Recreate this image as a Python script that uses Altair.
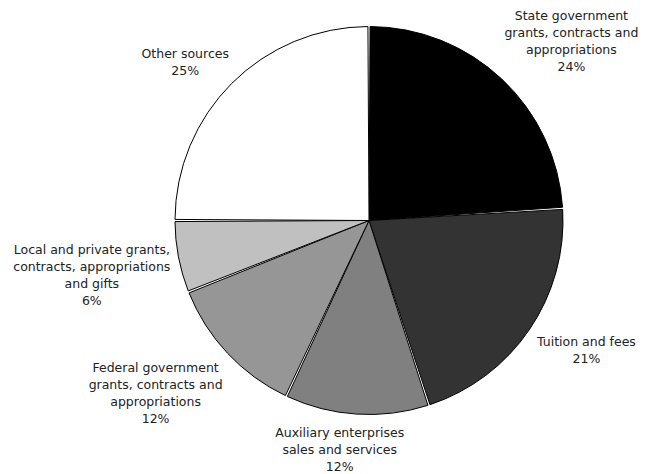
import altair as alt
import pandas as pd
import numpy as np

# ---- data ----
categories = [
    "State government\ngrants, contracts and\nappropriations",
    "Tuition and fees",
    "Auxiliary enterprises\nsales and services",
    "Federal government\ngrants, contracts and\nappropriations",
    "Local and private grants,\ncontracts, appropriations\nand gifts",
    "Other sources",
]
shares = [24, 21, 12, 12, 6, 25]
colors = ["#000000", "#333333", "#808080", "#969696", "#c0c0c0", "#ffffff"]

# ---- layout constants ----
W, H = 631, 466
CX, CY = 361, 212.5
R = 194
GAP = 8
FONT_SIZE = 12.5
LINE_H = 17
CHAR_W = 6.3

labels = [f"{c}\n{s}%" for c, s in zip(categories, shares)]

# label placement derived from the slice mid-angles (outside-end rule)
vals = np.array(shares, dtype=float)
cum = np.cumsum(vals)
mid = (cum - vals / 2) / vals.sum() * 2 * np.pi
lx, ly = [], []
for a, lab in zip(mid, labels):
    lines = lab.split("\n")
    n = len(lines)
    hw = max(len(l) for l in lines) * CHAR_W / 2
    hh = n * LINE_H / 2
    ux, uy = np.sin(a), -np.cos(a)
    m = max(abs(ux), abs(uy))
    fx = np.sign(ux) * (abs(ux) / m) ** 0.5
    fy = np.sign(uy) * (abs(uy) / m) ** 0.5
    cx = CX + (R + GAP) * ux + hw * fx
    cy = CY + (R + GAP) * uy + hh * fy
    lx.append(cx)
    # Vega centres the first line on y; shift so the whole block is centred
    ly.append(cy - (n - 1) * LINE_H / 2)

df = pd.DataFrame({
    "name": [c.replace("\n", " ") for c in categories],
    "share": shares,
    "idx": list(range(len(shares))),
    "label": labels,
    "lx": lx,
    "ly": ly,
})

names = list(df["name"])

arcs = alt.Chart(df).mark_arc(
    outerRadius=R, stroke="black", strokeWidth=1, padAngle=0.011
).encode(
    theta=alt.Theta("share:Q", stack=True),
    order=alt.Order("idx:Q"),
    color=alt.Color("name:N", scale=alt.Scale(domain=names, range=colors), legend=None),
    x=alt.value(CX),
    y=alt.value(CY),
)

text = alt.Chart(df).mark_text(
    lineBreak="\n", lineHeight=LINE_H, fontSize=FONT_SIZE, font="DejaVu Sans",
    align="center", baseline="middle", color="#222222", dy=2
).encode(
    x=alt.X("lx:Q", scale=None),
    y=alt.Y("ly:Q", scale=None),
    text="label:N",
)

chart = alt.layer(arcs, text).properties(
    width=W, height=H, padding=0, autosize=alt.AutoSizeParams(type="none")
).configure_view(stroke=None)

chart.save("out.html", embed_options={"renderer": "svg", "actions": False})
